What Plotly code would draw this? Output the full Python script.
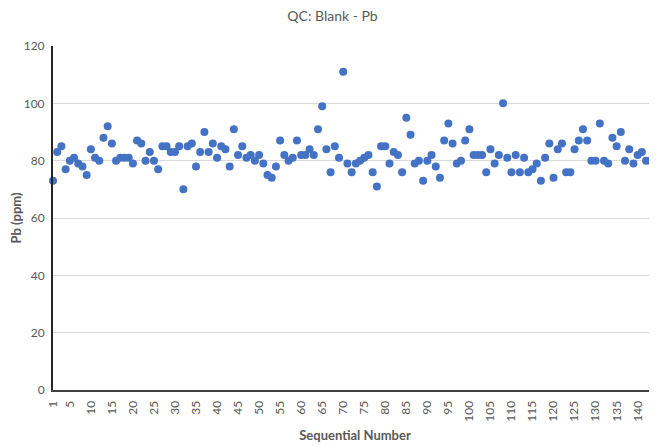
import plotly.graph_objects as go

# values, in order 1..143
pb = [73, 83, 85, 77, 80, 81, 79, 78, 75, 84,
      81, 80, 88, 92, 86, 80, 81, 81, 81, 79,
      87, 86, 80, 83, 80, 77, 85, 85, 83, 83,
      85, 70, 85, 86, 78, 83, 90, 83, 86, 81,
      85, 84, 78, 91, 82, 85, 81, 82, 80, 82,
      79, 75, 74, 78, 87, 82, 80, 81, 87, 82,
      82, 84, 82, 91, 99, 84, 76, 85, 81, 111,
      79, 76, 79, 80, 81, 82, 76, 71, 85, 85,
      79, 83, 82, 76, 95, 89, 79, 80, 73, 80,
      82, 78, 74, 87, 93, 86, 79, 80, 87, 91,
      82, 82, 82, 76, 84, 79, 82, 100, 81, 76,
      82, 76, 81, 76, 77, 79, 73, 81, 86, 74,
      84, 86, 76, 76, 84, 87, 91, 87, 80, 80,
      93, 80, 79, 88, 85, 90, 80, 84, 79, 82,
      83, 80, 80]
seq = list(range(1, len(pb) + 1))
x_ticks = [1] + list(range(5, 145, 5))
y_ticks = [0, 20, 40, 60, 80, 100, 120]

fig = go.Figure()

fig.add_trace(go.Scatter(x=seq, y=pb, mode='markers',
                         marker=dict(color='#4472C4', size=8),
                         cliponaxis=False,
                         showlegend=False))

# page body has an 8px margin, so the figure is sized to fit inside it
fig.update_layout(
    width=649, height=437,
    margin=dict(l=45, r=0, t=38, b=55),
    plot_bgcolor='white',
    paper_bgcolor='white',
    font=dict(family='Lato', color='#595959'),
    title=dict(text='QC: Blank - Pb', x=0.5, xanchor='center',
               y=0.981, yanchor='middle',
               font=dict(family='Lato', size=14, color='#595959')),
    xaxis=dict(
        range=[1, 144.6],
        automargin=False,
        tickmode='array',
        tickvals=x_ticks,
        ticktext=[str(v) for v in x_ticks],
        tickangle=-90,
        tickfont=dict(size=12, color='#595959'),
        ticklabelstandoff=4,
        showgrid=False,
        zeroline=False,
        showline=True,
        linecolor='#404040',
        linewidth=2,
        title=dict(text='<b>Sequential Number</b>', standoff=10,
                   font=dict(size=13, color='#595959')),
    ),
    yaxis=dict(
        range=[0, 120],
        automargin=False,
        tickvals=y_ticks,
        tickfont=dict(size=12, color='#595959'),
        ticklabelstandoff=4,
        showgrid=True,
        gridcolor='#D9D9D9',
        gridwidth=1,
        zeroline=False,
        showline=True,
        linecolor='#262626',
        linewidth=2,
        ticks='',
        title=dict(text='<b>Pb (ppm)</b>', standoff=2,
                   font=dict(size=13, color='#595959')),
    ),
)

fig.write_html("out.html")
